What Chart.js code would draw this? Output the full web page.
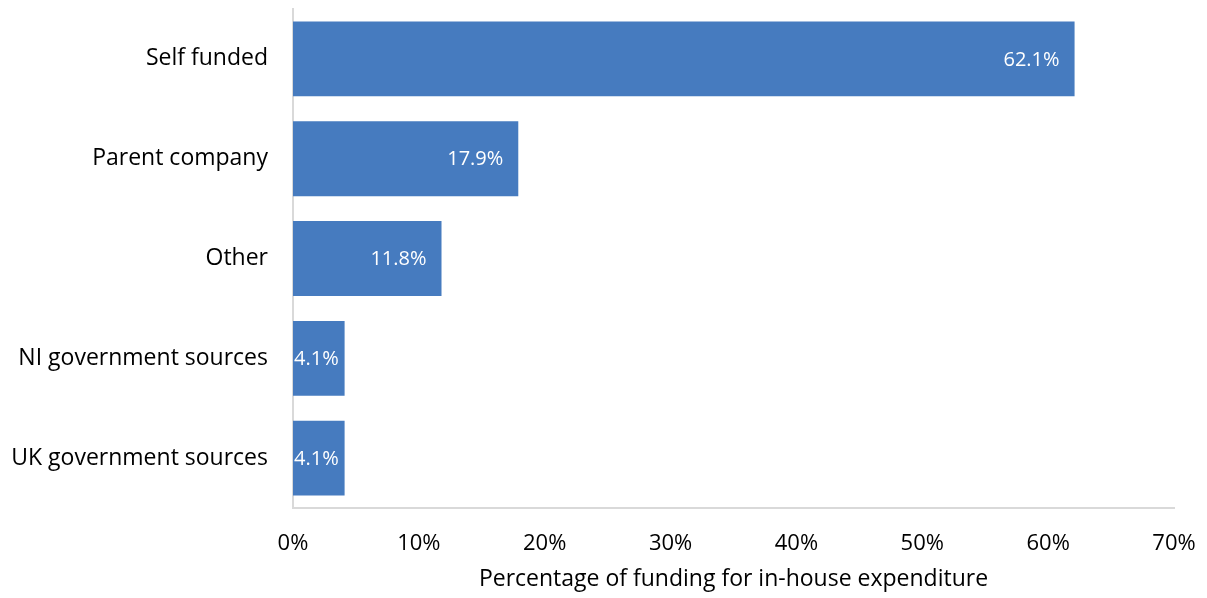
<!DOCTYPE html>
<html>
<head>
<meta charset="utf-8">
<script src="https://cdn.jsdelivr.net/npm/chart.js@4.4.0/dist/chart.umd.min.js"></script>
<style>
  html, body { margin: 0; padding: 0; background: #fff; }
  #wrap { width: 1207px; height: 598px; }
</style>
</head>
<body>
<div id="wrap"><canvas id="grafico" width="1207" height="598"></canvas></div>
<script>
// Datos del gráfico
const categorias = ['Self funded', 'Parent company', 'Other', 'NI government sources', 'UK government sources'];
const valores = [62.1, 17.9, 11.8, 4.1, 4.1];
const etiquetas = ['62.1%', '17.9%', '11.8%', '4.1%', '4.1%'];

const azul = '#467bbf';
const gris = '#d9d9d9';
const fuente = '"Open Sans", "Noto Sans", sans-serif';

// Etiquetas blancas dentro del extremo de cada barra
const etiquetasBarras = {
  id: 'etiquetasBarras',
  afterDatasetsDraw(chart) {
    const ctx = chart.ctx;
    const meta = chart.getDatasetMeta(0);
    const x0 = chart.scales.x.getPixelForValue(0);
    ctx.save();
    ctx.font = '20px ' + fuente;
    ctx.fillStyle = '#ffffff';
    ctx.textBaseline = 'middle';
    ctx.textAlign = 'right';
    meta.data.forEach(function (bar, i) {
      const texto = etiquetas[i];
      const w = ctx.measureText(texto).width;
      let xd = bar.x - 15;
      if (xd - w < x0 + 1) xd = x0 + 1 + w;
      ctx.fillText(texto, xd, bar.y + 1);
    });
    ctx.restore();
  }
};

new Chart(document.getElementById('grafico').getContext('2d'), {
  type: 'bar',
  data: {
    labels: categorias,
    datasets: [{
      data: valores,
      backgroundColor: azul,
      borderWidth: 0,
      barPercentage: 0.75,
      categoryPercentage: 1.0
    }]
  },
  options: {
    indexAxis: 'y',
    responsive: false,
    animation: false,
    events: [],
    layout: { padding: { top: 9, right: 33, left: 0, bottom: 0 } },
    plugins: { legend: { display: false }, tooltip: { enabled: false } },
    scales: {
      x: {
        min: 0,
        max: 70,
        ticks: {
          stepSize: 10,
          padding: 23,
          color: '#000',
          font: { family: fuente, size: 22 },
          callback: function (v) { return v + '%'; }
        },
        grid: { display: false, drawTicks: false },
        border: { display: true, color: gris, width: 2 },
        title: {
          display: true,
          text: 'Percentage of funding for in-house expenditure',
          color: '#000',
          font: { family: fuente, size: 23 },
          padding: { top: 4, bottom: 5 }
        },
        afterFit: function (s) {
          s.height = 90;
          s.paddingLeft = 0;
          s.paddingRight = 0;
        }
      },
      y: {
        ticks: {
          padding: 25,
          color: '#000',
          font: { family: fuente, size: 23 }
        },
        grid: { display: false, drawTicks: false },
        border: { display: true, color: gris, width: 2 },
        afterFit: function (s) {
          s.width = 293;
          s.paddingTop = 0;
          s.paddingBottom = 0;
        }
      }
    }
  },
  plugins: [etiquetasBarras]
});
</script>
</body>
</html>
